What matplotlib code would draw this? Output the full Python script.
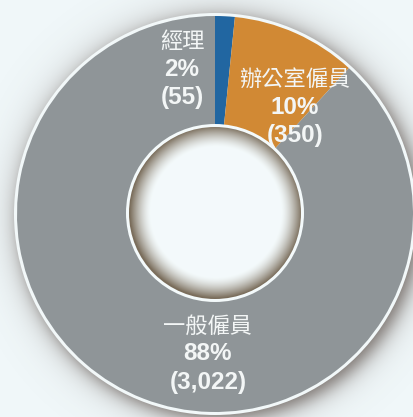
import numpy as np
import matplotlib.pyplot as plt
from matplotlib.patches import Circle

# staff breakdown
categories = ['經理', '辦公室僱員', '一般僱員']
counts = [55, 350, 3022]
colors = ['#2166a1', '#d18934', '#8f9598']

total = sum(counts)
pcts = ['{0}%'.format(round(c / total * 100)) for c in counts]
nums = ['({0:,})'.format(c) for c in counts]

W, H = 414, 417
fig = plt.figure(figsize=(W / 100, H / 100), dpi=100)
fig.patch.set_facecolor('#f0f7f9')
ax = fig.add_axes([0, 0, 1, 1])

cx, cy = 215, H - 214
R = 201
r_hole = 89

# drop shadow round the ring
yy, xx = np.mgrid[0:H, 0:W]
yy = H - yy - 0.5
xx = xx + 0.5
d1 = np.hypot(xx - (cx + 5), yy - (cy - 5)) - R
d2 = np.hypot(xx - (cx + 3), yy - (cy - 2)) - R
a = 0.55 / (1 + np.exp(d1 / 5.0)) + 0.35 / (1 + np.exp(d2 / 12.0))
a = np.clip(a, 0, 0.9)
shadow = np.zeros((H, W, 4))
shadow[..., 0] = 0.36
shadow[..., 1] = 0.31
shadow[..., 2] = 0.29
shadow[..., 3] = a
ax.imshow(shadow, extent=(0, W, 0, H), origin='upper', zorder=1, interpolation='bilinear')

ax.add_patch(Circle((cx, cy), R, facecolor='#f2f8f9', edgecolor='none', zorder=2))

wedges, _ = ax.pie(counts, colors=colors, startangle=90, counterclock=False,
                   radius=R - 3, center=(cx, cy),
                   wedgeprops=dict(linewidth=0, zorder=3))

# hole with inner shading
ax.add_patch(Circle((cx, cy + 1), r_hole, facecolor='#f4fafb', edgecolor='none', zorder=4))
rr = np.hypot(xx - (cx + 1), yy - (cy + 2))
w = np.clip((rr - (r_hole - 24)) / 21.0, 0, 1) ** 1.5
hole = np.zeros((H, W, 4))
base = np.array([0.955, 0.98, 0.985])
edge = np.array([0.48, 0.43, 0.36])
for k in range(3):
    hole[..., k] = base[k] * (1 - w) + edge[k] * w
hole[..., 3] = 1.0
im = ax.imshow(hole, extent=(0, W, 0, H), origin='upper', zorder=5, interpolation='bilinear')
im.set_clip_path(Circle((cx, cy + 1), r_hole - 3, transform=ax.transData))

ax.set_xlim(0, W)
ax.set_ylim(0, H)
ax.set_aspect('auto')
ax.axis('off')

tc = '#f3f6f6'
cjk = ['Noto Sans CJK TC', 'DejaVu Sans']
num_font = ['Liberation Sans', 'DejaVu Sans']
label_pos = [(182, 41), (295, 79), (208, 326)]
for (x, y), cat, p, n in zip(label_pos, categories, pcts, nums):
    ax.text(x, H - y, cat, color=tc, fontsize=16, family=cjk,
            ha='center', va='center', zorder=6)
    ax.text(x, H - y - 28, p, color=tc, fontsize=17.5, family=num_font, weight='bold',
            ha='center', va='center', zorder=6)
    ax.text(x, H - y - 56, n, color=tc, fontsize=17.5, family=num_font, weight='bold',
            ha='center', va='center', zorder=6)

plt.savefig('out.png', dpi=100)
